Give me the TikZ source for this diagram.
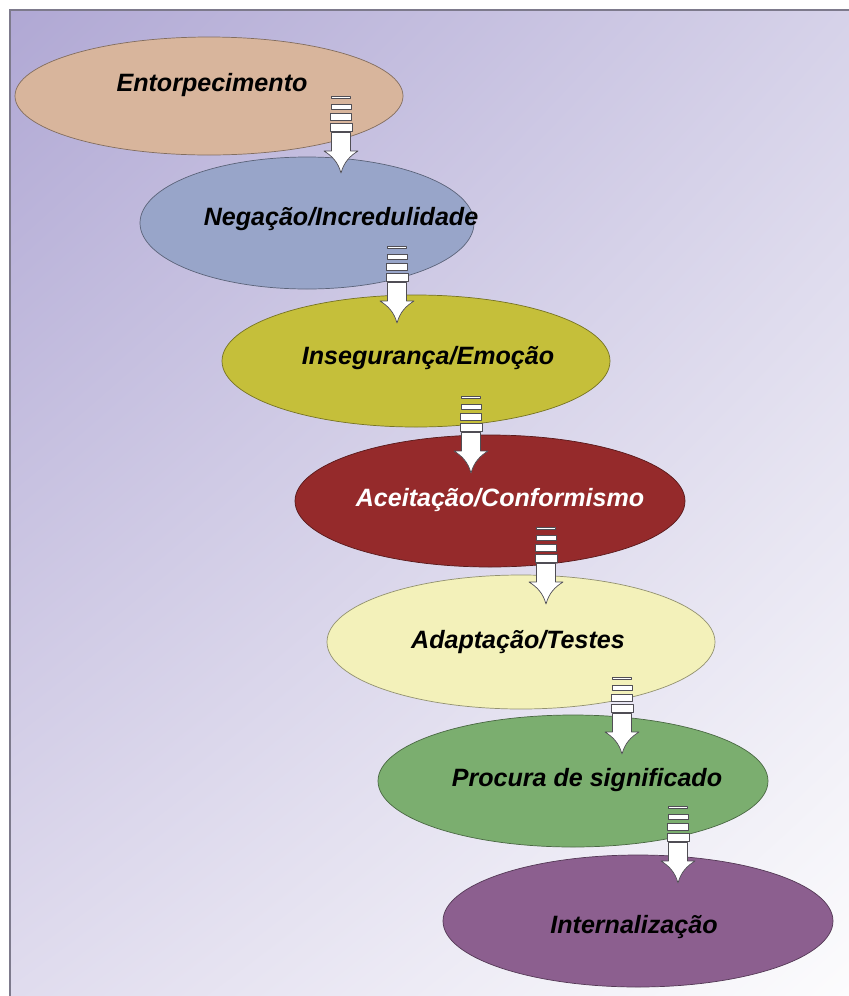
\documentclass[tikz,border=0pt]{standalone}
\usepackage{fontspec}
\setmainfont{Liberation Sans}
\usetikzlibrary{shapes.geometric,shadings}

% stage colours
\definecolor{cNumb}{RGB}{216,181,156}
\definecolor{cDeny}{RGB}{152,165,201}
\definecolor{cInsec}{RGB}{197,191,58}
\definecolor{cAccept}{RGB}{149,42,43}
\definecolor{cAdapt}{RGB}{243,241,186}
\definecolor{cSearch}{RGB}{123,174,111}
\definecolor{cIntern}{RGB}{140,95,143}
\definecolor{frameline}{RGB}{125,122,140}
\definecolor{arrowline}{RGB}{80,78,85}
% panel shading corners
\definecolor{bgUL}{RGB}{176,168,212}
\definecolor{bgUR}{RGB}{214,210,233}
\definecolor{bgLL}{RGB}{224,220,238}
\definecolor{bgLR}{RGB}{252,252,253}

\tikzset{
  stage/.style={ellipse, inner sep=0pt, fill=#1, draw=#1!60!black, line width=0.6pt},
  stagetext/.style={font=\fontsize{21.4}{24}\selectfont\bfseries\itshape, text=black, inner sep=0pt},
  arrowpart/.style={fill=white, draw=arrowline, line width=0.6pt, line join=round},
  pics/striped arrow/.style={code={
    \draw[arrowpart] (-9.5,1) rectangle (9.5,3);
    \draw[arrowpart] (-10,9.5) rectangle (10,14);
    \draw[arrowpart] (-10.5,18.5) rectangle (10.5,25);
    \draw[arrowpart] (-11,28) rectangle (11,36);
    \draw[arrowpart] (-9.5,37.5) -- (-9.5,56) -- (-17,56)
      .. controls (-9,61) and (-3,67) .. (0,78)
      .. controls (3,67) and (9,61) .. (17,56)
      -- (9.5,56) -- (9.5,37.5) -- cycle;
  }}
}

\begin{document}
\begin{tikzpicture}[x=0.03cm, y=-0.03cm]
  \useasboundingbox (0,0) rectangle (849,996);
  \fill[white] (0,0) rectangle (849,996);

  % shaded panel with its top and left border
  \shade[upper left=bgUL, upper right=bgUR, lower left=bgLL, lower right=bgLR]
    (10,10) rectangle (849,996);
  \draw[frameline, line width=1.2pt] (10,996) -- (10,10) -- (849,10);

  % the seven stages
  \node[stage=cNumb,   minimum width=388*0.03cm, minimum height=118*0.03cm] (e1) at (209,96)  {};
  \node[stage=cDeny,   minimum width=334*0.03cm, minimum height=132*0.03cm] (e2) at (307,223) {};
  \node[stage=cInsec,  minimum width=388*0.03cm, minimum height=132*0.03cm] (e3) at (416,361) {};
  \node[stage=cAccept, minimum width=390*0.03cm, minimum height=132*0.03cm] (e4) at (490,501) {};
  \node[stage=cAdapt,  minimum width=388*0.03cm, minimum height=134*0.03cm] (e5) at (521,642) {};
  \node[stage=cSearch, minimum width=390*0.03cm, minimum height=132*0.03cm] (e6) at (573,781) {};
  \node[stage=cIntern, minimum width=390*0.03cm, minimum height=132*0.03cm] (e7) at (638,921) {};

  % stage names
  \node[stagetext] (t1) at (212,85)  {Entorpecimento};
  \node[stagetext] (t2) at (341,219) {Negação/Incredulidade};
  \node[stagetext] (t3) at (428,358) {Insegurança/Emoção};
  \node[stagetext, text=white] (t4) at (500,500) {Aceitação/Conformismo};
  \node[stagetext] (t5) at (518,642) {Adaptação/Testes};
  \node[stagetext] (t6) at (587,780) {Procura de significado};
  \node[stagetext] (t7) at (634,927) {Internalização};

  % striped arrows leading from one stage to the next
  \coordinate (a1) at (341,95);
  \coordinate (a2) at (397,245);
  \coordinate (a3) at (471,395);
  \coordinate (a4) at (546,526);
  \coordinate (a5) at (622,676);
  \coordinate (a6) at (678,805);
  \foreach \c in {a1,a2,a3,a4,a5,a6}
    \pic at (\c) {striped arrow};
\end{tikzpicture}
\end{document}
